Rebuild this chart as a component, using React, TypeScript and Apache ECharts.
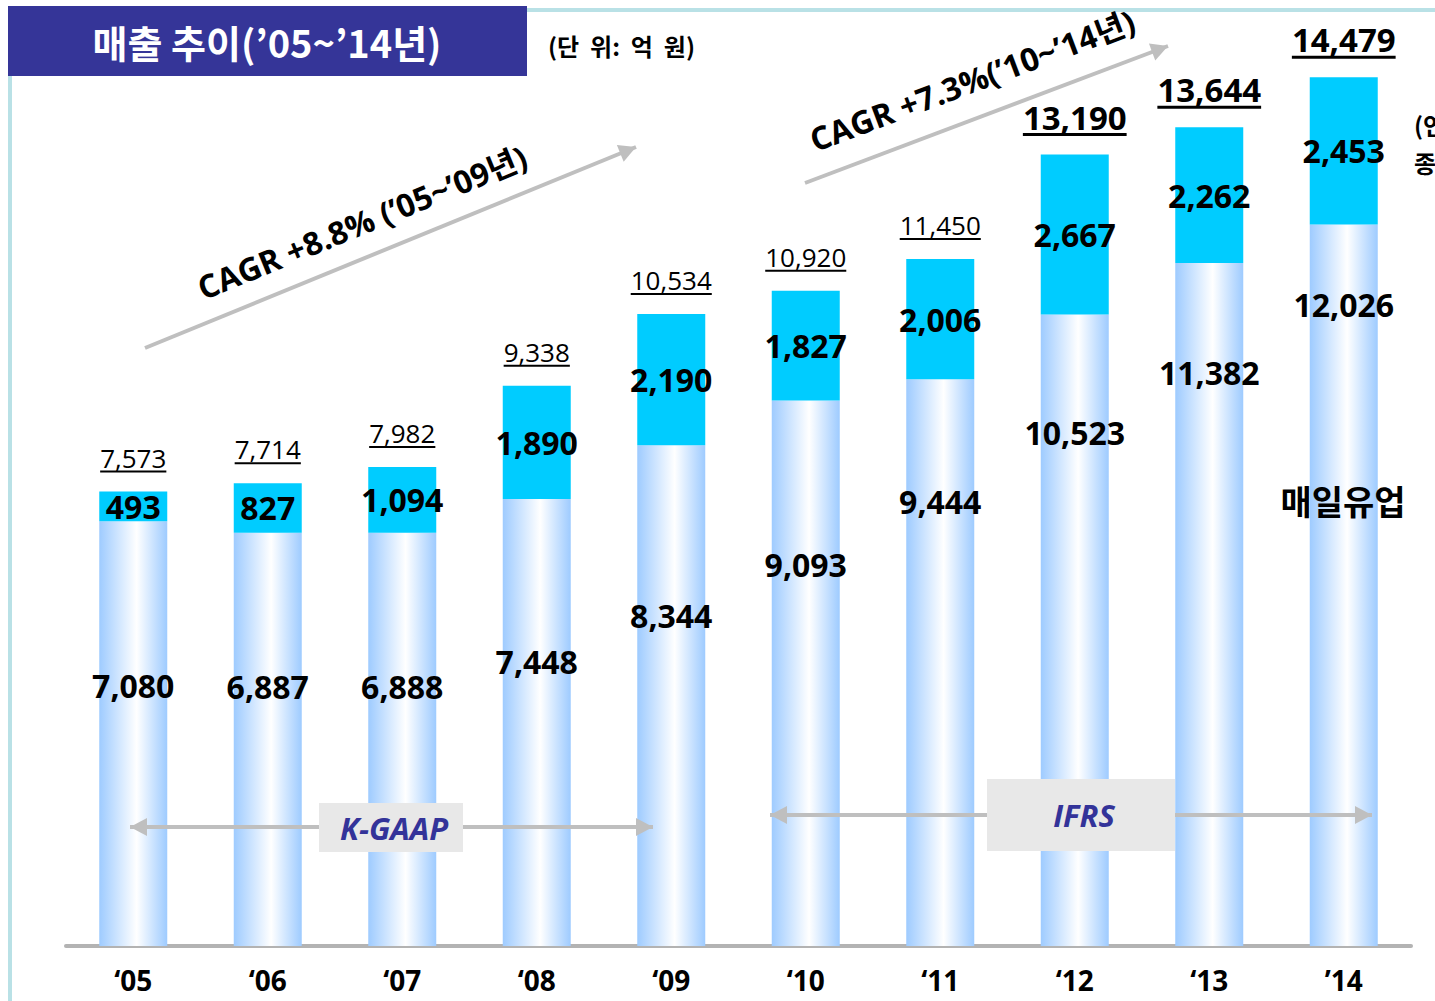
import React, { useEffect, useRef } from "react";
import * as echarts from "echarts";

const categories = ["‘05", "‘06", "‘07", "‘08", "‘09", "‘10", "‘11", "‘12", "‘13", "’14"];
const maeilValues = [7080, 6887, 6888, 7448, 8344, 9093, 9444, 10523, 11382, 12026];
const subsidiaryValues = [493, 827, 1094, 1890, 2190, 1827, 2006, 2667, 2262, 2453];
const totalValues = [7573, 7714, 7982, 9338, 10534, 10920, 11450, 13190, 13644, 14479];
// label placement inside the lower segment (px below the segment top)
const bottomLabelDist = [148, 138, 138, 146, 154, 148, 106, 102, 93, 64];

const FONT = '"Open Sans", "Noto Sans CJK KR", sans-serif';
const KFONT = '"Noto Sans CJK KR", "Noto Sans", sans-serif';

function fmt(v: number) {
  return v.toLocaleString("en-US");
}

let measureCtx: CanvasRenderingContext2D | null = null;
function measure(text: string, font: string) {
  if (!measureCtx) measureCtx = document.createElement("canvas").getContext("2d");
  if (!measureCtx) return text.length * 14;
  measureCtx.font = font;
  return measureCtx.measureText(text).width;
}

function arrowHead(tx: number, ty: number, fx: number, fy: number, len = 17, half = 9) {
  const dx = tx - fx, dy = ty - fy;
  const d = Math.sqrt(dx * dx + dy * dy);
  const ux = dx / d, uy = dy / d;
  const bx = tx - ux * len, by = ty - uy * len;
  return {
    type: "polygon",
    z: 100,
    shape: { points: [[tx, ty], [bx - uy * half, by + ux * half], [bx + uy * half, by - ux * half]] },
    style: { fill: "#BFBFBF" },
  };
}

function arrowLine(x1: number, y1: number, x2: number, y2: number, both: boolean) {
  const els: any[] = [
    { type: "line", z: 100, shape: { x1, y1, x2, y2 }, style: { stroke: "#BFBFBF", lineWidth: 4 } },
    arrowHead(x2, y2, x1, y1),
  ];
  if (both) els.push(arrowHead(x1, y1, x2, y2));
  return els;
}

function txt(x: number, y: number, text: string, font: string, fill: string, align = "center", rotation = 0) {
  return {
    type: "text",
    z: 110,
    x,
    y,
    rotation,
    style: {
      text,
      font,
      fill,
      align,
      verticalAlign: "middle",
      textAlign: align,
      textVerticalAlign: "middle",
    },
  };
}

export default function App() {
  const ref = useRef<HTMLDivElement>(null);
  useEffect(() => {
    if (!ref.current) return;
    const chart = echarts.init(ref.current, undefined, { renderer: "svg" });
    const option: any = {
      animation: false,
      backgroundColor: "#ffffff",
      grid: { left: 66, right: 24, top: 46, bottom: 55 },
      xAxis: {
        type: "category",
        data: categories,
        axisTick: { show: false },
        axisLine: { show: true, lineStyle: { color: "#B3B3B3", width: 4 } },
        axisLabel: {
          margin: 20,
          color: "#000",
          fontSize: 28,
          fontWeight: "bold",
          fontFamily: FONT,
        },
      },
      yAxis: {
        type: "value",
        min: 0,
        max: 15000,
        show: false,
        splitLine: { show: false },
      },
      series: [
        {
          name: "매일유업",
          type: "bar",
          stack: "sales",
          barWidth: 68,
          data: maeilValues.map((v, i) => ({ value: v, label: { distance: bottomLabelDist[i] } })),
          itemStyle: {
            color: new echarts.graphic.LinearGradient(0, 0, 1, 0, [
              { offset: 0, color: "#9ECBFF" },
              { offset: 0.55, color: "#FFFFFF" },
              { offset: 1, color: "#9ECBFF" },
            ]),
          },
          label: {
            show: true,
            position: "insideTop",
            color: "#000",
            fontSize: 32,
            fontWeight: "bold",
            fontFamily: FONT,
            formatter: (p: any) => fmt(p.value),
          },
        },
        {
          name: "종속회사",
          type: "bar",
          stack: "sales",
          barWidth: 68,
          data: subsidiaryValues,
          itemStyle: { color: "#00CCFF" },
          label: {
            show: true,
            position: "inside",
            color: "#000",
            fontSize: 32,
            fontWeight: "bold",
            fontFamily: FONT,
            formatter: (p: any) => fmt(p.value),
          },
        },
        {
          name: "합계",
          type: "custom",
          data: totalValues.map((v, i) => [i, v]),
          z: 10,
          renderItem: (params: any, api: any) => {
            const idx = params.dataIndex;
            const p = api.coord([api.value(0), api.value(1)]);
            const bold = idx >= 7;
            const font = bold ? `bold 33px ${FONT}` : `26px ${FONT}`;
            const t = fmt(totalValues[idx]);
            const w = measure(t, font);
            const uy = p[1] - 20;
            return {
              type: "group",
              children: [
                {
                  type: "text",
                  x: p[0],
                  y: uy - 1,
                  style: {
                    text: t,
                    font,
                    fill: "#000",
                    align: "center",
                    verticalAlign: "bottom",
                    textAlign: "center",
                    textVerticalAlign: "bottom",
                  },
                },
                {
                  type: "line",
                  shape: { x1: p[0] - w / 2, y1: uy, x2: p[0] + w / 2, y2: uy },
                  style: { stroke: "#000", lineWidth: bold ? 3 : 2 },
                },
              ],
            };
          },
        },
      ],
      graphic: [
        { type: "rect", z: 90, shape: { x: 527, y: 8, width: 908, height: 4 }, style: { fill: "#B9E1E6" } },
        { type: "rect", z: 90, shape: { x: 8, y: 76, width: 4, height: 925 }, style: { fill: "#B9E1E6" } },
        { type: "rect", z: 95, shape: { x: 8, y: 6, width: 519, height: 70 }, style: { fill: "#353598" } },
        txt(267, 41, "매출 추이(’05~’14년)", `bold 38px ${KFONT}`, "#FFFFFF"),
        txt(548, 45, "(단  위:  억  원)", `bold 24px ${KFONT}`, "#000", "left"),
        ...arrowLine(145, 348, 636, 147, false),
        txt(362, 222, "CAGR +8.8% (’05~’09년)", `bold 32px ${FONT}`, "#000", "center", 0.39),
        ...arrowLine(805, 183, 1168, 46, false),
        txt(972, 80, "CAGR +7.3%(’10~’14년)", `bold 32px ${FONT}`, "#000", "center", 0.36),
        ...arrowLine(130, 827, 653, 827, true),
        { type: "rect", z: 105, shape: { x: 319, y: 803, width: 144, height: 49 }, style: { fill: "#E8E8E8" } },
        txt(394, 828, "K-GAAP", `italic bold 31px ${FONT}`, "#333399"),
        ...arrowLine(770, 815, 1372, 815, true),
        { type: "rect", z: 105, shape: { x: 987, y: 779, width: 188, height: 72 }, style: { fill: "#E8E8E8" } },
        txt(1084, 815, "IFRS", `italic bold 31px ${FONT}`, "#333399"),
        txt(1343, 500, "매일유업", `bold 34px ${KFONT}`, "#000"),
        txt(1414, 124, "(연결)", `bold 24px ${KFONT}`, "#000", "left"),
        txt(1414, 162, "종속", `bold 24px ${KFONT}`, "#000", "left"),
      ],
    };
    chart.setOption(option);
    return () => chart.dispose();
  }, []);
  return (
    <div
      ref={ref}
      style={{ position: "absolute", left: 0, top: 0, width: 1435, height: 1001, background: "#fff" }}
    />
  );
}
